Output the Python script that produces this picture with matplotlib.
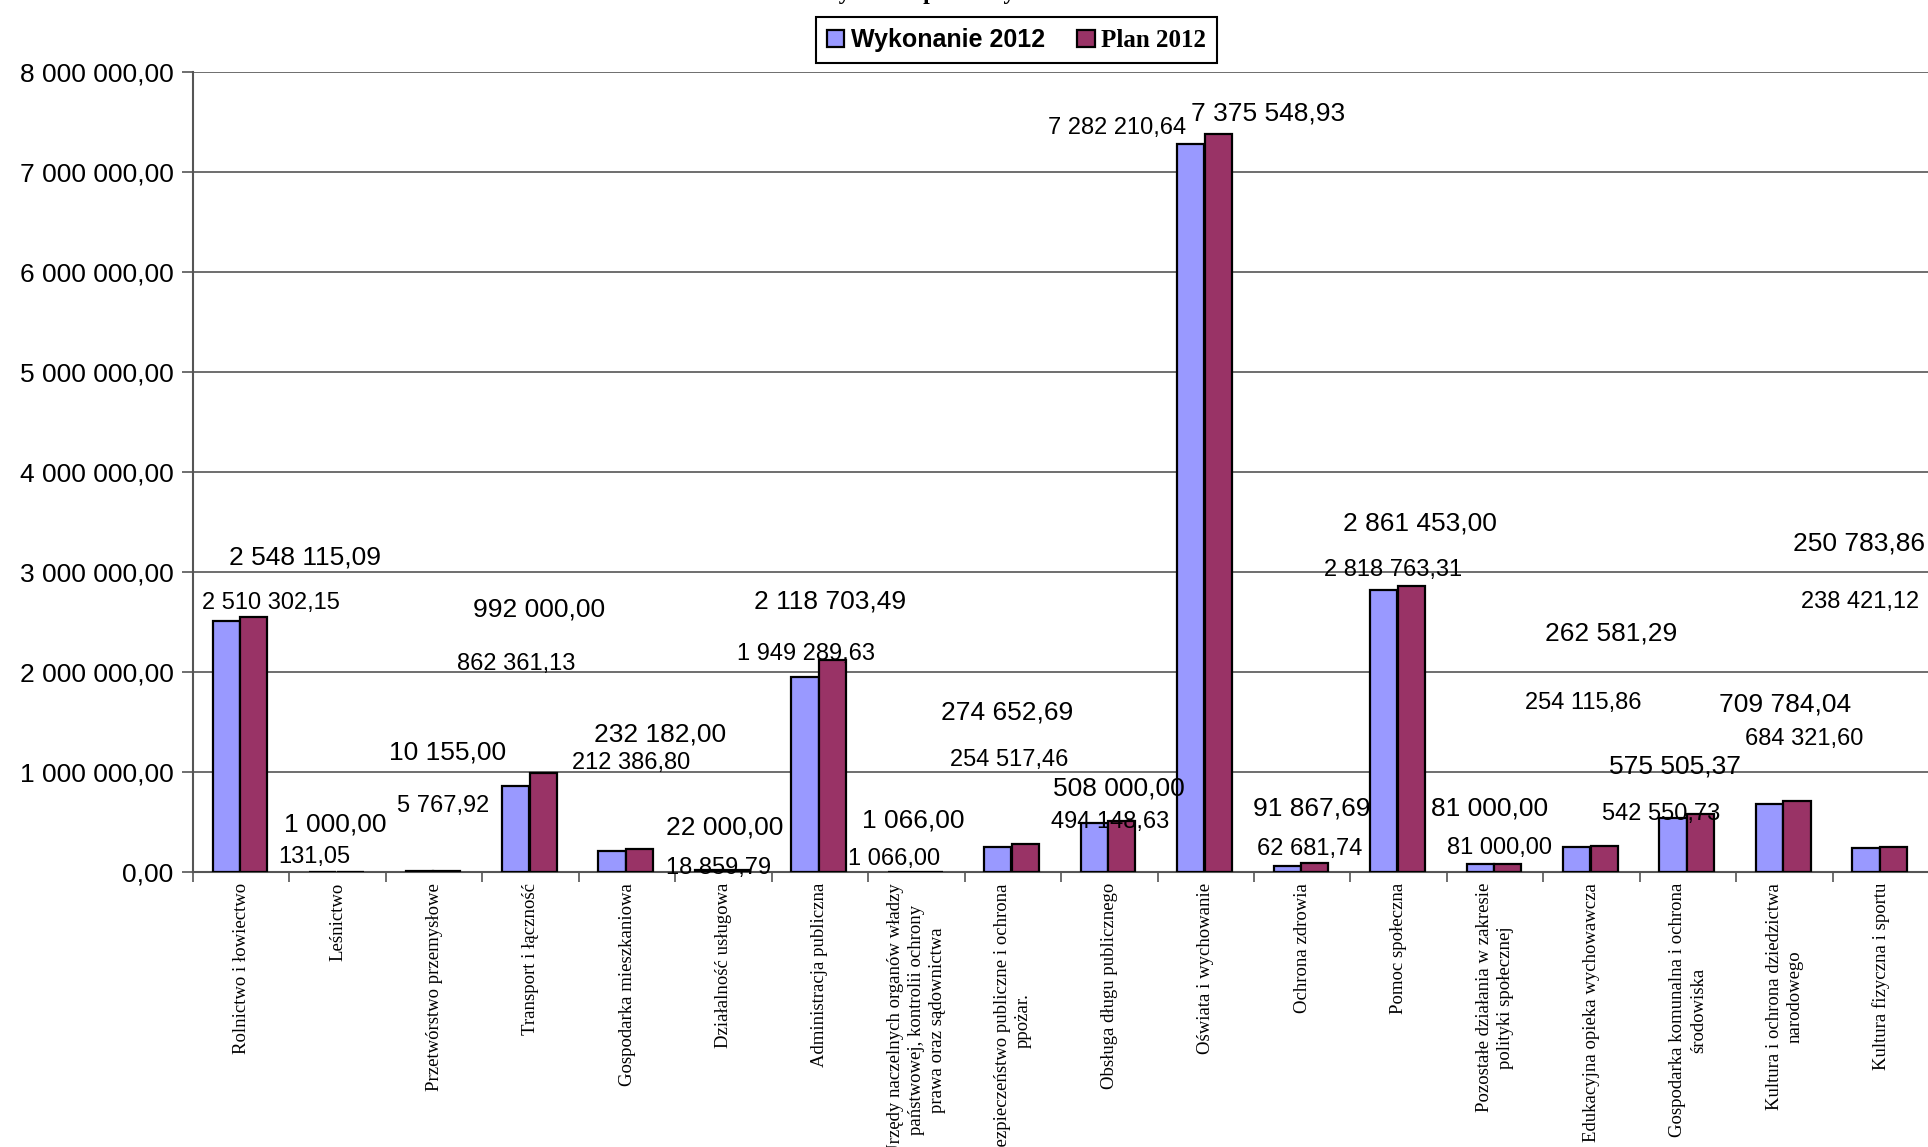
# Wydatki - plan i wykonanie 2012
import numpy as np
import matplotlib.pyplot as plt
from matplotlib.ticker import FuncFormatter, FixedLocator

# dane
kategorie = ["Rolnictwo i łowiectwo", "Leśnictwo", "Przetwórstwo przemysłowe",
             "Transport i łączność", "Gospodarka mieszkaniowa", "Działalność usługowa",
             "Administracja publiczna",
             "Urzędy naczelnych organów władzy\npaństwowej, kontrolii ochrony\nprawa oraz sądownictwa",
             "Bezpieczeństwo publiczne i ochrona\nppożar.",
             "Obsługa długu publicznego", "Oświata i wychowanie", "Ochrona zdrowia",
             "Pomoc społeczna", "Pozostałe działania w zakresie\npolityki społecznej",
             "Edukacyjna opieka wychowawcza", "Gospodarka komunalna i ochrona\nśrodowiska",
             "Kultura i ochrona dziedzictwa\nnarodowego", "Kultura fizyczna i sportu"]
wykonanie = [2510302.15, 131.05, 5767.92, 862361.13, 212386.80, 18859.79, 1949289.63,
             1066.00, 254517.46, 494148.63, 7282210.64, 62681.74, 2818763.31, 81000.00,
             254115.86, 542550.73, 684321.60, 238421.12]
plan = [2548115.09, 1000.00, 10155.00, 992000.00, 232182.00, 22000.00, 2118703.49,
        1066.00, 274652.69, 508000.00, 7375548.93, 91867.69, 2861453.00, 81000.00,
        262581.29, 575505.37, 709784.04, 250783.86]
seria = ["Wykonanie 2012", "Plan 2012"]

# polozenie etykiet (jak w oryginale, przesuniete)
plan_dx = [0.66, -0.03, 0.14, 0.09, 0.34, 0.01, 0.11, -0.03, -0.06, 0.10,
           0.65, 0.10, 0.22, -0.06, 0.20, -0.13, 0.01, -0.23]
plan_y = [3.14, 0.47, 1.19, 2.62, 1.37, 0.44, 2.70, 0.51, 1.59, 0.83,
          7.59, 0.63, 3.48, 0.63, 2.38, 1.05, 1.67, 3.28]
wyk_dx = [0.31, -0.24, 0.09, -0.15, 0.04, -0.05, -0.14, -0.23, -0.04, 0.01,
          -0.92, 0.08, -0.06, 0.05, -0.09, -0.28, 0.20, -0.22]
wyk_y = [2.69, 0.15, 0.66, 2.08, 1.09, 0.04, 2.18, 0.13, 1.12, 0.50,
         7.44, 0.23, 3.02, 0.24, 1.69, 0.58, 1.33, 2.70]

def fmt(v, pos=None):
    return f"{v:,.2f}".replace(",", " ").replace(".", ",")

fig = plt.figure(figsize=(19.28, 11.47), dpi=100)
ax = fig.add_axes([0.1001, 0.2398, 0.9005, 0.6974])

x = np.arange(len(kategorie))
w = 0.282
ax.bar(x - 0.155, wykonanie, w, color='#9999FF', edgecolor='black', linewidth=1.6,
       label=seria[0], zorder=3)
ax.bar(x + 0.13, plan, w, color='#993366', edgecolor='black', linewidth=1.6,
       label=seria[1], zorder=3)

for i in range(len(x)):
    ax.text(x[i] + plan_dx[i], plan_y[i] * 1e6, fmt(plan[i]), ha='center', va='center',
            fontsize=19, family='Liberation Sans', zorder=4)
    ax.text(x[i] + wyk_dx[i], wyk_y[i] * 1e6, fmt(wykonanie[i]), ha='center', va='center',
            fontsize=17, family='Liberation Sans', zorder=4)

ax.set_xlim(-0.5, len(x) - 0.5)
ax.set_ylim(0, 8000000)
ax.set_yticks(np.arange(0, 8000001, 1000000))
ax.yaxis.set_major_formatter(FuncFormatter(fmt))
ax.grid(axis='y', color='#555555', linewidth=1.2, zorder=0)
ax.set_axisbelow(True)

ax.xaxis.set_major_locator(FixedLocator(np.arange(-0.5, len(x), 1.0)))
ax.xaxis.set_major_formatter(FuncFormatter(lambda v, p: ""))
ax.set_xticks(x, minor=True)
ax.set_xticklabels(kategorie, minor=True, rotation=90, ha='center', va='top',
                   multialignment='center', family='Liberation Serif', fontsize=13.5,
                   linespacing=1.3)
ax.tick_params(axis='x', which='minor', length=0, pad=8)
ax.tick_params(axis='x', which='major', length=7, width=1.2, color='#555555', direction='out')
ax.tick_params(axis='y', length=8, width=1.2, color='#555555', direction='out', pad=6,
               labelsize=19)
for t in ax.get_yticklabels():
    t.set_family('Liberation Sans')

for s in ['top', 'right']:
    ax.spines[s].set_visible(False)
for s in ['left', 'bottom']:
    ax.spines[s].set_color('#555555')
    ax.spines[s].set_linewidth(1.5)

# tytul - w oryginale prawie caly poza obrazkiem
fig.text(0.523, 1.0008, "Wydatki - plan i wykonanie na 2012 r.", ha='center', va='baseline',
         fontsize=17, fontweight='bold', family='Liberation Serif')

leg = fig.legend(loc='center', bbox_to_anchor=(1016.5 / 1928, 1 - 40 / 1147), ncol=2,
                 fancybox=False, edgecolor='black', framealpha=1, fontsize=18,
                 handlelength=0.7, handleheight=0.7, handletextpad=0.25,
                 columnspacing=1.3, borderpad=0.45)
leg.get_frame().set_linewidth(1.5)
txts = leg.get_texts()
txts[0].set_family('Liberation Sans')
txts[0].set_fontweight('bold')
txts[1].set_family('Liberation Serif')
txts[1].set_fontweight('bold')

plt.savefig('out.png', dpi=100)
